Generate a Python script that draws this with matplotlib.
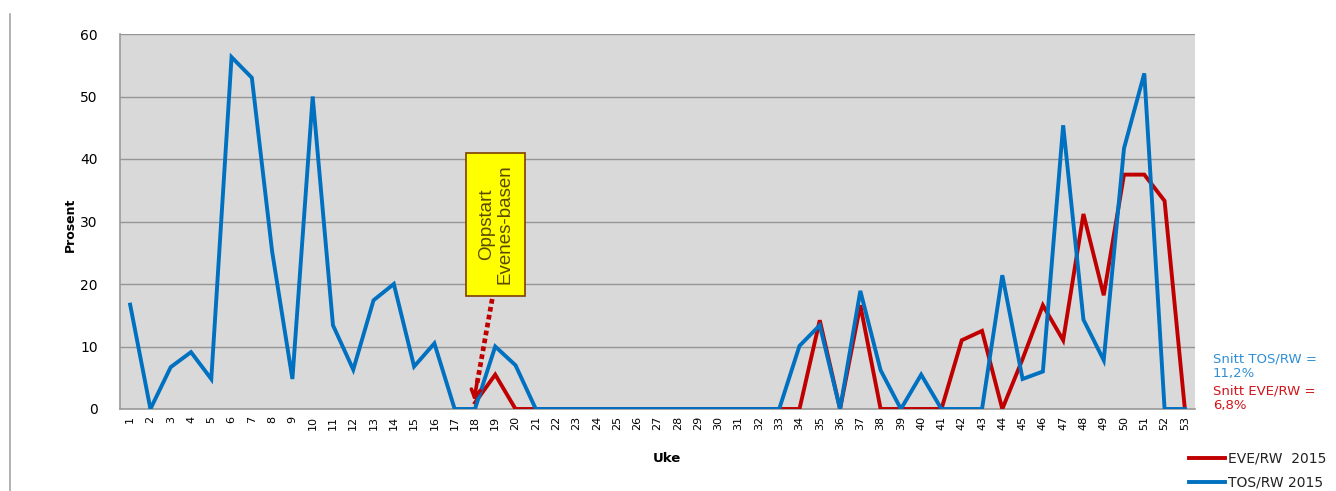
import numpy as np
import matplotlib
matplotlib.use("Agg")
import matplotlib.pyplot as plt
from matplotlib.lines import Line2D

# Weekly share (%) per base, 2015
weeks = list(range(1, 54))
tos_rw = [16.7, 0, 6.7, 9.1, 4.8, 56.3, 53.0, 25.2, 4.8, 50.0,
          13.4, 6.3, 17.4, 20.0, 6.8, 10.5, 0, 0, 10.0, 7.0,
          0, 0, 0, 0, 0, 0, 0, 0, 0, 0,
          0, 0, 0, 10.1, 13.4, 0, 18.9, 6.2, 0, 5.5,
          0, 0, 0, 21.4, 4.8, 6.0, 45.4, 14.3, 7.8, 41.7,
          53.7, 0, 0]
eve_rw = [np.nan] * 17 + [1.0, 5.5, 0,
          0, 0, 0, 0, 0, 0, 0, 0, 0, 0,
          0, 0, 0, 0, 14.2, 0, 16.6, 0, 0, 0,
          0, 11.0, 12.5, 0, 8.0, 16.6, 11.0, 31.2, 18.2, 37.5,
          37.5, 33.3, 0]
yticks = [0, 10, 20, 30, 40, 50, 60]
avg_tos = "11,2%"
avg_eve = "6,8%"
start_week = 18

BLUE = "#0070C0"
RED = "#C00000"

W, H = 1336, 491
fig = plt.figure(figsize=(W / 100, H / 100), dpi=100)
ax = fig.add_axes([120 / W, 1 - 409 / H, (1195 - 120) / W, (409 - 34) / H])
ax.set_facecolor("#D9D9D9")

ax.plot(weeks, eve_rw, color=RED, lw=2.8, solid_joinstyle="miter", zorder=3)
ax.plot(weeks, tos_rw, color=BLUE, lw=2.8, solid_joinstyle="miter", zorder=4)

ax.set_xlim(0.5, 53.5)
ax.set_ylim(0, 60)
ax.set_yticks(yticks)
ax.set_xticks(weeks)
ax.set_xticklabels([str(w) for w in weeks], rotation=90, fontsize=8,
                   family="DejaVu Sans")
ax.tick_params(axis="x", length=0, pad=5)
ax.tick_params(axis="y", length=0, pad=16, labelsize=10)
ax.grid(axis="y", color="#969696", lw=1.0, zorder=1)
ax.set_axisbelow(True)
for s in ("top", "right"):
    ax.spines[s].set_visible(False)
for s in ("left", "bottom"):
    ax.spines[s].set_color("#9A9A9A")
    ax.spines[s].set_linewidth(1.2)

# Axis titles
fig.text(70 / W, 1 - 225 / H, "Prosent", rotation=90, ha="center", va="center",
         fontsize=9, fontweight="bold", family="Liberation Sans Narrow")
fig.text(667 / W, 1 - 458 / H, "Uke", ha="center", va="center",
         fontsize=9.5, fontweight="bold", family="DejaVu Sans")

# Start-up annotation: dotted connector with an open arrow head
tip = (start_week - 0.05, 1.3)
tail = (18.85, 17.6)
ax.plot([tail[0], 18.1], [tail[1], 4.0], color=RED, lw=3.4,
        dashes=(1.0, 0.7), solid_capstyle="butt", zorder=5)
ax.annotate("", xy=tip, xytext=(18.12, 4.6),
            arrowprops=dict(arrowstyle="->,head_length=0.55,head_width=0.32",
                            color=RED, lw=2.6, shrinkA=0, shrinkB=0),
            zorder=5)
ax.text(19.03, 29.5, "Oppstart\nEvenes-basen", rotation=90, ha="center",
        va="center", fontsize=13.5, color="#5A4A00", family="Liberation Sans",
        linespacing=1.15, zorder=6,
        bbox=dict(boxstyle="square,pad=0.62", fc="#FFFF00", ec="#7F3F00", lw=1.2))

# Averages
fig.text(1213 / W, 1 - 352 / H, "Snitt TOS/RW =\n" + avg_tos, ha="left", va="top",
         fontsize=9.5, color="#2E8FD6", family="DejaVu Sans", linespacing=1.2)
fig.text(1213 / W, 1 - 384 / H, "Snitt EVE/RW =\n" + avg_eve, ha="left", va="top",
         fontsize=9.5, color="#D0141A", family="DejaVu Sans", linespacing=1.2)

# Legend drawn beside the chart
for y, col, lab in ((458, RED, "EVE/RW  2015"), (482, BLUE, "TOS/RW 2015")):
    fig.add_artist(Line2D([1189 / W, 1225 / W], [1 - y / H, 1 - y / H],
                          color=col, lw=2.8))
    fig.text(1228 / W, 1 - y / H, lab, ha="left", va="center", fontsize=10,
             family="DejaVu Sans", color="#222222")

# Frame line at left edge
fig.add_artist(Line2D([10 / W, 10 / W], [0, 1 - 14 / H], color="#A6A6A6", lw=1.2))

fig.savefig("out.png", dpi=100)
